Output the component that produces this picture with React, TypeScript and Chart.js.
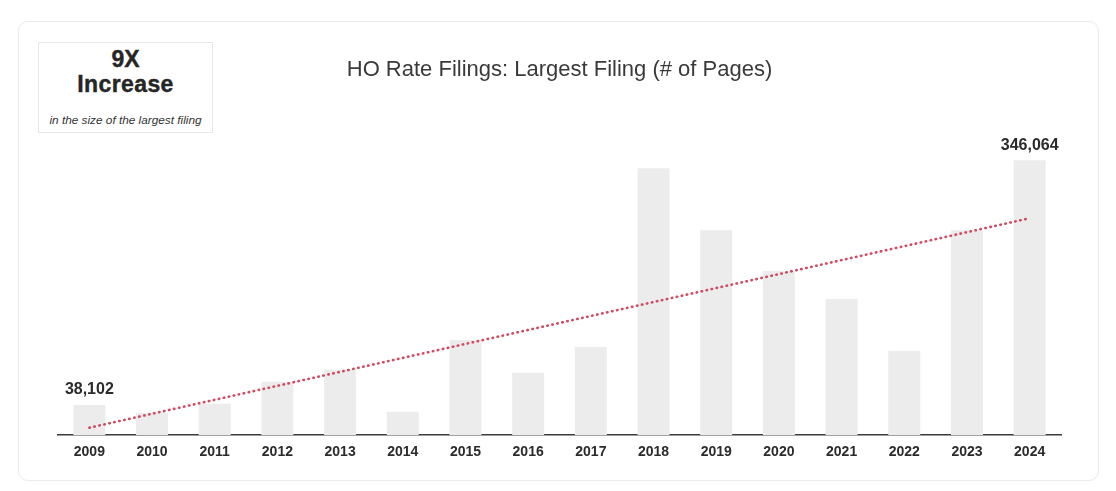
import React, { useEffect, useRef } from "react";
import { Chart, registerables } from "chart.js";

Chart.register(...registerables);

const years = ["2009", "2010", "2011", "2012", "2013", "2014", "2015", "2016", "2017", "2018", "2019", "2020", "2021", "2022", "2023", "2024"];
const largestFilingPages = [38102, 28300, 39600, 67200, 82300, 29500, 120000, 78500, 111200, 336000, 258100, 206600, 171400, 106100, 258100, 346064];
const trendStart = 9400;
const trendEnd = 273200;
const labeledYears = ["2009", "2024"];
const yMax = 380000;

const FONT = "'Liberation Sans', Arial, Helvetica, sans-serif";

const valueLabelPlugin = {
  id: "valueLabels",
  afterDatasetsDraw(chart: any) {
    const meta = chart.getDatasetMeta(0);
    const ctx = chart.ctx;
    ctx.save();
    ctx.font = `bold 16px ${FONT}`;
    ctx.fillStyle = "#2b2b2b";
    ctx.textAlign = "center";
    ctx.textBaseline = "middle";
    years.forEach((yr, i) => {
      if (!labeledYears.includes(yr)) return;
      const el = meta.data[i];
      ctx.fillText(largestFilingPages[i].toLocaleString("en-US"), el.x, el.y - 15);
    });
    ctx.restore();
  },
};

export default function App() {
  const ref = useRef<HTMLCanvasElement | null>(null);

  useEffect(() => {
    if (!ref.current) return;
    const trend = years.map((_, i) => (i === 0 ? trendStart : i === years.length - 1 ? trendEnd : null));
    const chart = new Chart(ref.current, {
      type: "bar",
      data: {
        labels: years,
        datasets: [
          {
            type: "bar",
            data: largestFilingPages,
            backgroundColor: "#ececec",
            categoryPercentage: 1,
            barPercentage: 0.51,
            order: 1,
          } as any,
          {
            type: "line",
            data: trend,
            spanGaps: true,
            borderColor: "#d04a62",
            borderWidth: 2.6,
            borderDash: [0.5, 4.6],
            borderCapStyle: "round",
            pointRadius: 0,
            fill: false,
            order: 0,
          } as any,
        ],
      },
      options: {
        responsive: false,
        animation: false,
        layout: { padding: { left: 39, right: 37, top: 0, bottom: 10 } },
        plugins: {
          legend: { display: false },
          tooltip: { enabled: false },
          title: {
            display: true,
            text: "HO Rate Filings: Largest Filing (# of Pages)",
            color: "#3a3a3a",
            font: { family: FONT, size: 22, weight: "normal" },
            padding: { top: 35, bottom: 50 },
          },
        },
        scales: {
          x: {
            grid: { display: false, drawTicks: false },
            border: { display: true, color: "#3a3a3a", width: 1.5 },
            ticks: {
              color: "#2b2b2b",
              font: { family: FONT, size: 14, weight: "bold" },
              padding: 9,
              maxRotation: 0,
              autoSkip: false,
            },
          },
          y: {
            display: false,
            min: 0,
            max: yMax,
          },
        },
      },
      plugins: [valueLabelPlugin],
    });
    return () => chart.destroy();
  }, []);

  return (
    <div style={{ position: "absolute", left: 0, top: 0, width: 1116, height: 491, background: "#fff", fontFamily: FONT }}>
      <div
        style={{
          position: "absolute",
          left: 18,
          top: 21,
          width: 1081,
          height: 460,
          boxSizing: "border-box",
          border: "1px solid #ebebeb",
          borderRadius: 10,
          background: "#fff",
        }}
      >
        <canvas ref={ref} width={1079} height={458} style={{ position: "absolute", left: 0, top: 0, width: 1079, height: 458 }} />
      </div>
      <div
        style={{
          position: "absolute",
          left: 38,
          top: 42,
          width: 175,
          height: 91,
          boxSizing: "border-box",
          border: "1px solid #e6e6e6",
          background: "#fff",
          textAlign: "center",
          color: "#262626",
        }}
      >
        <div style={{ position: "absolute", left: 0, right: 0, top: 3, fontWeight: 900, fontSize: 23, lineHeight: "26px", WebkitTextStroke: "0.4px #262626" }}>9X</div>
        <div style={{ position: "absolute", left: 0, right: 0, top: 28, fontWeight: 900, fontSize: 23, lineHeight: "26px", letterSpacing: 0.4, WebkitTextStroke: "0.4px #262626" }}>Increase</div>
        <div style={{ position: "absolute", left: 0, right: 0, top: 70, fontStyle: "italic", fontSize: 11.8, lineHeight: "14px", color: "#333" }}>
          in the size of the largest filing
        </div>
      </div>
    </div>
  );
}
